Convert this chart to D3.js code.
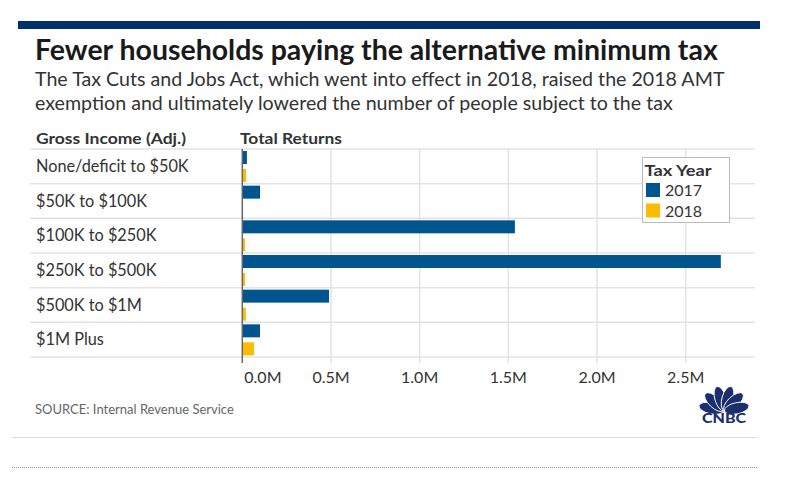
<!DOCTYPE html>
<html>
<head>
<meta charset="utf-8">
<script src="https://cdn.jsdelivr.net/npm/d3@7"></script>
<style>
  html, body { margin: 0; padding: 0; background: #fff; }
  svg { display: block; }
  text { font-family: Lato, "Open Sans", sans-serif; }
</style>
</head>
<body>
<svg id="chart" width="785" height="484"></svg>
<script>
const categories = ["None/deficit to $50K", "$50K to $100K", "$100K to $250K", "$250K to $500K", "$500K to $1M", "$1M Plus"];
const seriesNames = ["2017", "2018"];
const values2017 = [26000, 100000, 1537000, 2698000, 489000, 100000];
const values2018 = [21000, 0, 15000, 15000, 20000, 66000];
const tickValues = [0, 500000, 1000000, 1500000, 2000000, 2500000];
const colors = ["#01558f", "#ffbb00"];

const title = "Fewer households paying the alternative minimum tax";
const subtitle = ["The Tax Cuts and Jobs Act, which went into effect in 2018, raised the 2018 AMT",
                  "exemption and ultimately lowered the number of people subject to the tax"];

const svg = d3.select("#chart");

// top bar
svg.append("rect").attr("x", 18).attr("y", 21).attr("width", 742).attr("height", 8).attr("fill", "#00306b");

function fitText(sel, target) {
  const w = sel.node().getComputedTextLength();
  const fs = parseFloat(sel.attr("font-size"));
  sel.attr("font-size", fs * target / w);
}
function stretch(sel, target) {
  sel.attr("textLength", target).attr("lengthAdjust", "spacingAndGlyphs");
}

const t = svg.append("text").attr("x", 35).attr("y", 60).attr("font-size", 24)
  .attr("font-weight", 700).attr("fill", "#1a1a1a").text(title);
fitText(t, 683);

const s1 = svg.append("text").attr("x", 35).attr("y", 86).attr("font-size", 17).attr("fill", "#333").text(subtitle[0]);
fitText(s1, 690);
svg.append("text").attr("x", 35).attr("y", 110).attr("font-size", +s1.attr("font-size")).attr("fill", "#333").text(subtitle[1]);

// headers
const h1 = svg.append("text").attr("x", 36).attr("y", 144).attr("font-size", 15.5).attr("font-weight", 700).attr("fill", "#333").text("Gross Income (Adj.)");
stretch(h1, 150);
const h2 = svg.append("text").attr("x", 240).attr("y", 144).attr("font-size", 15.5).attr("font-weight", 700).attr("fill", "#333").text("Total Returns");
stretch(h2, 102);

const y = d3.scaleBand().domain(categories).range([149, 357]).padding(0);
const yInner = d3.scaleBand().domain(seriesNames).range([2, y.bandwidth() - 1.7]).paddingInner(0.278);
const x = d3.scaleLinear().domain([0, 2500000]).range([242.3, 685.7]);

// vertical gridlines
svg.append("g").selectAll("line").data(tickValues.slice(1)).join("line")
  .attr("x1", d => x(d)).attr("x2", d => x(d)).attr("y1", 149).attr("y2", 363)
  .attr("stroke", "#e3e3e3").attr("stroke-width", 1.5);

// horizontal row lines
const bounds = categories.map(c => y(c)).concat([y(categories[categories.length - 1]) + y.bandwidth()]);
svg.append("g").selectAll("line").data(bounds).join("line")
  .attr("x1", 30).attr("x2", 755).attr("y1", d => d).attr("y2", d => d)
  .attr("stroke", "#e3e3e3").attr("stroke-width", 1.5);

// category labels
svg.append("g").selectAll("text").data(categories).join("text")
  .attr("x", 36).attr("y", d => y(d) + y.bandwidth() / 2 + 5.8)
  .attr("font-size", 16.3).attr("fill", "#333").text(d => d);

// bars
const data = categories.map((c, i) => ({ c, vals: [values2017[i], values2018[i]] }));
const rows = svg.append("g").selectAll("g").data(data).join("g")
  .attr("transform", d => `translate(0,${y(d.c)})`);
rows.selectAll("rect").data(d => d.vals.map((v, j) => ({ v, s: seriesNames[j], j }))).join("rect")
  .attr("x", x(0)).attr("y", d => yInner(d.s)).attr("height", yInner.bandwidth())
  .attr("width", d => x(d.v) - x(0)).attr("fill", d => colors[d.j]);

// zero axis
svg.append("line").attr("x1", x(0)).attr("x2", x(0)).attr("y1", 149).attr("y2", 363)
  .attr("stroke", "#666").attr("stroke-width", 1.5);

// tick labels
const fmt = v => d3.format(".1f")(v / 1e6) + "M";
svg.append("g").selectAll("text").data(tickValues).join("text")
  .attr("x", (d, i) => i === 0 ? x(d) + 2 : x(d))
  .attr("text-anchor", (d, i) => i === 0 ? "start" : "middle")
  .attr("y", 383).attr("font-size", 16).attr("fill", "#333").text(fmt);

// legend
const lg = svg.append("g");
lg.append("rect").attr("x", 642.5).attr("y", 157.5).attr("width", 87).attr("height", 65)
  .attr("fill", "#fff").attr("stroke", "#bbb").attr("stroke-width", 1);
const lt = lg.append("text").attr("x", 644.5).attr("y", 175.5).attr("font-size", 15.5).attr("font-weight", 700).attr("fill", "#333").text("Tax Year");
stretch(lt, 67);
seriesNames.forEach((s, i) => {
  lg.append("rect").attr("x", 646).attr("y", 183 + i * 20.5).attr("width", 14).attr("height", 14).attr("fill", colors[i]);
  lg.append("text").attr("x", 665).attr("y", 196 + i * 20.5).attr("font-size", 16).attr("fill", "#333").text(s);
});

// source
svg.append("text").attr("x", 35).attr("y", 414).attr("font-size", 13).attr("fill", "#666").text("SOURCE: Internal Revenue Service");

// lines at bottom
svg.append("line").attr("x1", 12).attr("x2", 757).attr("y1", 437.5).attr("y2", 437.5).attr("stroke", "#d8dde0").attr("stroke-width", 1);
svg.append("line").attr("x1", 12).attr("x2", 757).attr("y1", 467.5).attr("y2", 467.5).attr("stroke", "#999").attr("stroke-width", 1).attr("stroke-dasharray", "1,1");

// CNBC logo (peacock)
const logo = svg.append("g").attr("transform", "translate(724,411)");
const feathers = [-78, -47, -16, 16, 47, 78];
logo.selectAll("ellipse").data(feathers).join("ellipse")
  .attr("cx", 0).attr("cy", -13).attr("rx", 5.6).attr("ry", 12.5)
  .attr("transform", d => `rotate(${d})`)
  .attr("fill", "#1b2f6e").attr("stroke", "#fff").attr("stroke-width", 0.9);
const lt2 = logo.append("text").attr("x", -22).attr("y", 12)
  .attr("font-size", 12.5).attr("font-weight", 900).attr("font-family", "DejaVu Sans, Liberation Sans, sans-serif")
  .attr("fill", "#1b2f6e").text("CNBC");
stretch(lt2, 44);
</script>
</body>
</html>
